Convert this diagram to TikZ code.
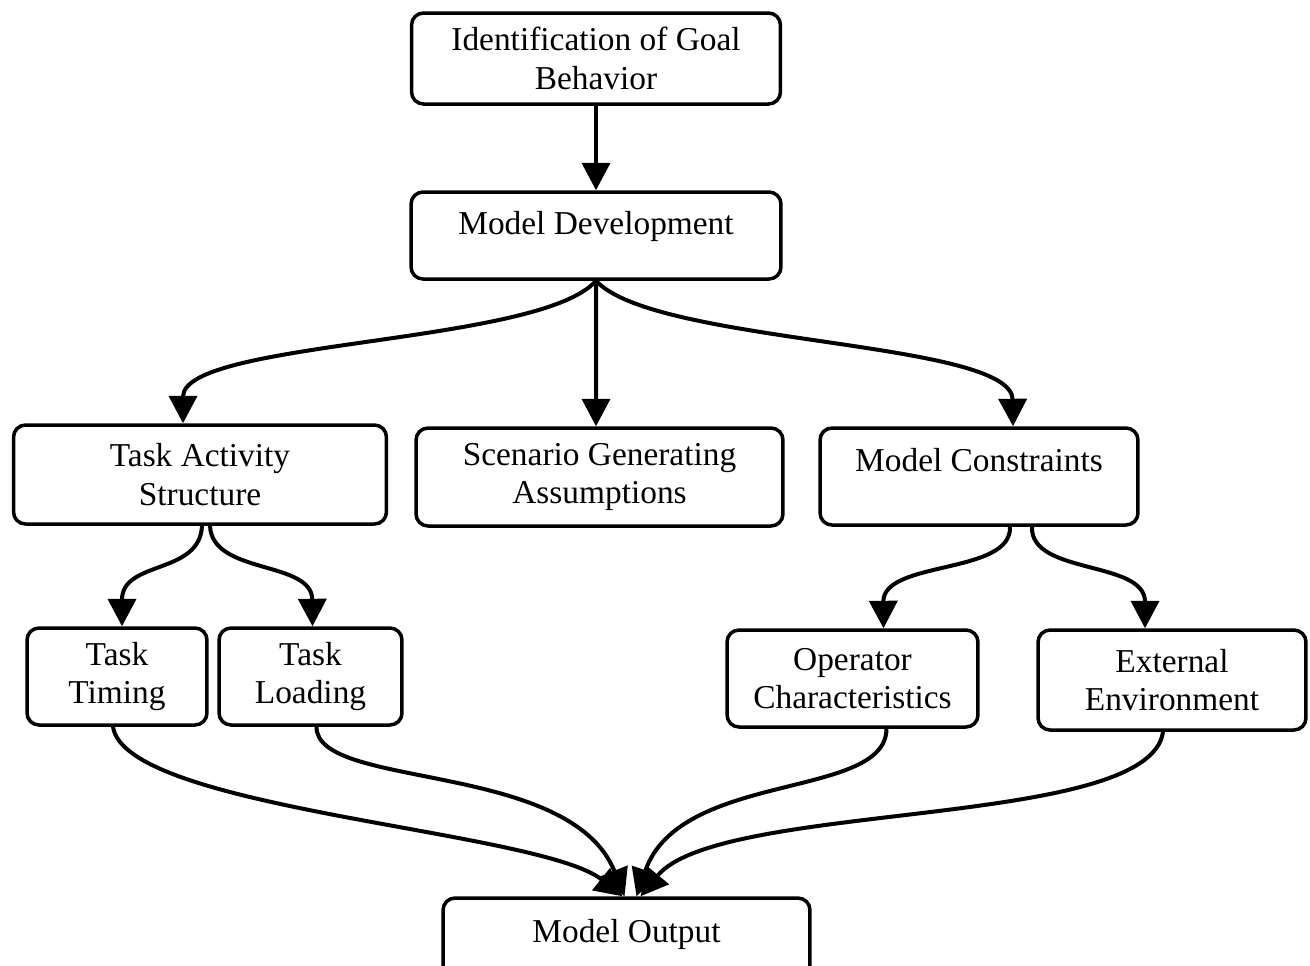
\documentclass[tikz,border=0pt]{standalone}
\usepackage{fontspec}
\setmainfont{Liberation Serif}
\usetikzlibrary{arrows.meta}

\begin{document}
\begin{tikzpicture}[x=0.02cm, y=-0.02cm,
  box/.style={draw, line width=0.07cm, rounded corners=0.24cm, align=center, inner sep=0pt,
    font=\fontsize{19}{22}\selectfont},
  link/.style={line width=0.08cm, -{Triangle[length=0.55cm, width=0.56cm]}}]
\useasboundingbox (0,0) rectangle (1310,965);
\node[box, minimum width=7.38cm, minimum height=1.82cm] (goal) at (596,58.5) {Identification of Goal\\Behavior};
\node[box, minimum width=7.4cm, minimum height=1.74cm, text height=0.5cm, text depth=0.54cm] (md) at (596,235.5) {Model Development};
\node[box, minimum width=7.46cm, minimum height=1.98cm] (tas) at (200,474.5) {Task Activity\\Structure};
\node[box, minimum width=7.34cm, minimum height=1.96cm] (sga) at (599.5,477) {Scenario Generating\\Assumptions};
\node[box, minimum width=6.36cm, minimum height=1.94cm, text height=0.5cm, text depth=0.72cm] (mc) at (979,476.5) {Model Constraints};
\node[box, minimum width=3.6cm, minimum height=1.94cm] (tt) at (117,676.5) {Task\\Timing};
\node[box, minimum width=3.66cm, minimum height=1.94cm] (tl) at (310.5,676.5) {Task\\Loading};
\node[box, minimum width=5.02cm, minimum height=1.94cm] (oc) at (852.5,678.5) {Operator\\Characteristics};
\node[box, minimum width=5.36cm, minimum height=2.0cm] (ee) at (1172,680) {External\\Environment};
\node[box, minimum width=7.34cm, minimum height=1.8cm, text height=0.5cm, text depth=0.54cm] (mo) at (626.5,943) {Model Output};

\draw[link] (goal) -- (md);
\draw[link] (md.south) .. controls (540,345) and (183,340) .. ([xshift=-0.34cm]tas.north);
\draw[link] (md.south) -- ([xshift=-0.07cm]sga.north);
\draw[link] (md.south) .. controls (655,345) and (1012,340) .. ([xshift=0.68cm]mc.north);
\draw[link] ([xshift=0.04cm]tas.south) .. controls (200,575) and (122,560) .. ([xshift=0.1cm]tt.north);
\draw[link] ([xshift=0.2cm]tas.south) .. controls (212,575) and (312,560) .. ([xshift=0.04cm]tl.north);
\draw[link] ([xshift=0.62cm]mc.south) .. controls (1012,575) and (883,560) .. ([xshift=0.62cm]oc.north);
\draw[link] ([xshift=1.06cm]mc.south) .. controls (1030,575) and (1145,560) .. ([xshift=-0.54cm]ee.north);
\draw[link] ([xshift=-0.08cm]tt.south) .. controls (125,810) and (540,830) .. ([xshift=-0.08cm]mo.north);
\draw[link] ([xshift=0.12cm]tl.south) .. controls (316,790) and (570,760) .. ([xshift=-0.04cm]mo.north);
\draw[link] ([xshift=0.68cm]oc.south) .. controls (886,800) and (680,770) .. ([xshift=0.2cm]mo.north);
\draw[link] ([xshift=-0.18cm]ee.south) .. controls (1150,830) and (720,800) .. ([xshift=0.28cm]mo.north);
\end{tikzpicture}
\end{document}
